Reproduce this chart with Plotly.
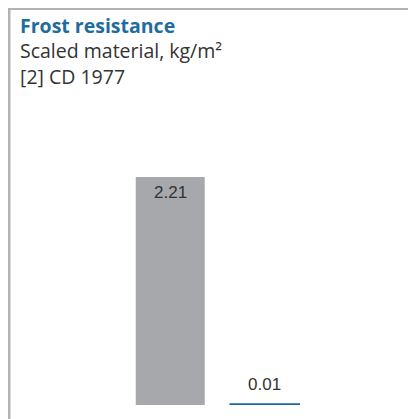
import plotly.graph_objects as go

categories = ["Reference", "Treated"]
values = [2.21, 0.01]
labels = ["2.21", "0.01"]
bar_colors = ["#a7a8ac", "#1b6a9c"]

title = "Frost resistance"
subtitle = "Scaled material, kg/m²"
source = "[2] CD 1977"

fig = go.Figure()
fig.add_trace(go.Bar(
    x=categories, y=values,
    marker=dict(color=bar_colors, line=dict(color=bar_colors, width=[0, 1.6])),
    hoverinfo="skip", showlegend=False))

# value labels: first one inside the top of the bar, second above the thin bar
shifts = [-16, 19]
for cat, val, lab, dy in zip(categories, values, labels, shifts):
    fig.add_annotation(x=cat, y=val, text=lab, showarrow=False, yshift=dy,
                       yanchor="middle", font=dict(family="Liberation Sans, Arial", size=17, color="#333333"))

# title block, one annotation so the lines keep even spacing
head = f'<span style="color:#1f6c9e;font-size:19.5px"><b>{title}</b></span>'
fig.add_annotation(xref="paper", yref="paper", x=-0.553, y=1.372, xanchor="left", yanchor="middle",
                   align="left", text=f"{head}<br>{subtitle}<br>{source}", showarrow=False,
                   font=dict(family="Open Sans", size=19.5, color="#333333"))

# frame around the panel (right and bottom edges run off the figure)
fig.add_shape(type="rect", xref="paper", yref="paper", x0=-0.6032, x1=2.0, y0=-0.2, y1=1.5368,
              line=dict(color="#b3b3b5", width=3), layer="below")

fig.update_layout(
    width=408, height=411,
    margin=dict(l=115, r=104, t=139, b=14),
    paper_bgcolor="white", plot_bgcolor="white",
    bargap=0.27,
    xaxis=dict(visible=False, range=[-0.5, 1.5]),
    yaxis=dict(visible=False, range=[0, 2.5]),
)

fig.write_html("out.html")
